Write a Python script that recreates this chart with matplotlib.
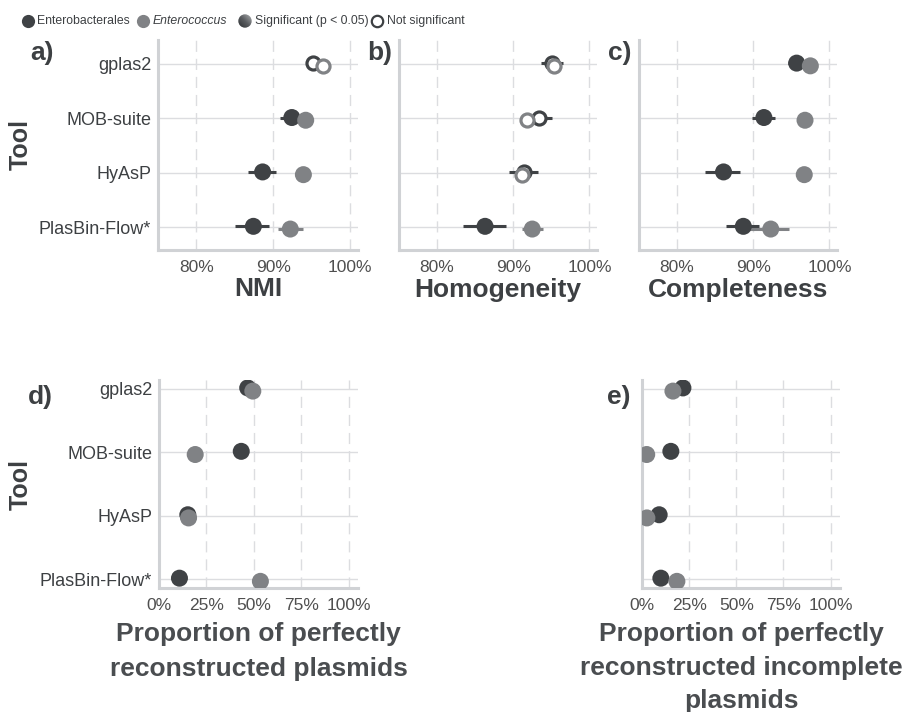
import matplotlib
matplotlib.use("Agg")
import matplotlib.pyplot as plt
from matplotlib.patches import Circle
from matplotlib.colors import LinearSegmentedColormap
from matplotlib import font_manager as fm
import numpy as np

plt.rcParams['font.family'] = ['Liberation Sans', 'DejaVu Sans']

# ---------------- data ----------------
tools = ["gplas2", "MOB-suite", "HyAsP", "PlasBin-Flow"]
tool_labels = ["gplas2", "MOB-suite", "HyAsP", "PlasBin-Flow*"]

# a) NMI
nmi_entb = [95.2, 92.4, 88.6, 87.4]
nmi_entb_lo = [94.3, 90.9, 86.7, 85.0]
nmi_entb_hi = [96.1, 93.9, 90.3, 89.4]
nmi_entb_sig = [False, True, True, True]
nmi_entc = [96.4, 94.2, 93.9, 92.2]
nmi_entc_lo = [95.9, 93.6, 93.4, 90.6]
nmi_entc_hi = [96.9, 94.8, 94.4, 93.8]
nmi_entc_sig = [False, True, True, True]

# b) Homogeneity
hom_entb = [95.1, 93.4, 91.4, 86.3]
hom_entb_lo = [93.6, 91.8, 89.5, 83.4]
hom_entb_hi = [96.5, 95.1, 93.2, 89.0]
hom_entb_sig = [False, False, False, True]
hom_entc = [95.4, 91.8, 91.2, 92.5]
hom_entc_lo = [94.8, 91.2, 90.6, 91.2]
hom_entc_hi = [96.0, 92.4, 91.8, 93.9]
hom_entc_sig = [False, False, False, True]

# c) Completeness
com_entb = [95.7, 91.4, 86.1, 88.7]
com_entb_lo = [94.5, 89.9, 83.7, 86.4]
com_entb_hi = [96.9, 92.9, 88.2, 90.8]
com_entb_sig = [True, True, True, True]
com_entc = [97.5, 96.8, 96.7, 92.3]
com_entc_lo = [97.1, 96.4, 96.3, 89.2]
com_entc_hi = [97.9, 97.2, 97.1, 94.7]
com_entc_sig = [True, True, True, True]

# d) perfectly reconstructed plasmids (%)
perf_entb = [46.8, 43.4, 15.2, 10.8]
perf_entc = [49.5, 19.1, 15.6, 53.5]

# e) perfectly reconstructed incomplete plasmids (%)
inc_entb = [21.7, 15.3, 9.1, 10.0]
inc_entc = [16.4, 2.5, 2.6, 18.5]

ticks_top = [80, 90, 100]
ticks_bottom = [0, 25, 50, 75, 100]

# ---------------- style ----------------
DARK = '#3f4245'
GREY = '#808285'
TXT = '#3d4043'
TICKTXT = '#4f4f4f'
SPINE = '#d0d2d5'
GRID = '#dcdde0'

W, H = 910, 712
fig = plt.figure(figsize=(W / 100, H / 100), dpi=100)


def px_axes(l, r, t, b):
    return fig.add_axes([l / W, 1 - b / H, (r - l) / W, (b - t) / H])


def style(ax, xticks, xlim, ylim, show_y, xlabel, labelpad=2, linespacing=1.25):
    ax.set_xlim(*xlim)
    ax.set_ylim(*ylim)
    ax.set_xticks(xticks)
    ax.set_xticklabels([f"{t}%" for t in xticks])
    ax.set_yticks(np.arange(len(tools)))
    if show_y:
        ax.set_yticklabels(tool_labels)
    else:
        ax.set_yticklabels([])
    ax.tick_params(length=0, labelsize=12.5, colors=TICKTXT, pad=7)
    ax.tick_params(axis='y', labelsize=13, labelcolor=TXT, pad=5)
    ax.grid(axis='y', color=GRID, lw=1.0, zorder=0)
    ax.grid(axis='x', color=GRID, lw=1.0, ls=(0, (8, 5)), zorder=0)
    ax.set_axisbelow(True)
    for s in ['top', 'right']:
        ax.spines[s].set_visible(False)
    for s in ['left', 'bottom']:
        ax.spines[s].set_color(SPINE)
        ax.spines[s].set_linewidth(2.2)
    ax.set_xlabel(xlabel, fontsize=19, fontweight='bold', color=TXT,
                  labelpad=labelpad, linespacing=linespacing)


def draw_series(ax, vals, lo, hi, sig, color, off):
    y = np.arange(len(vals)) + off
    vals = np.asarray(vals, float)
    if lo is not None:
        ax.hlines(y, lo, hi, color=color, lw=2.2, zorder=3)
    sig = np.asarray(sig, bool)
    ax.scatter(vals[sig], y[sig], s=150, color=color, edgecolors='none', zorder=4)
    ax.scatter(vals[~sig], y[~sig], s=88, facecolors='white', edgecolors=color,
               linewidths=2.3, zorder=4)


OFF_B, OFF_C = -0.015, 0.035

# top row
top_lim = (75, 101)
top_ylim = (3.42, -0.44)
ax_a = px_axes(158, 358, 40, 250)
ax_b = px_axes(399, 597, 40, 250)
ax_c = px_axes(639, 837, 40, 250)

for ax, eb, ebl, ebh, ebs, ec, ecl, ech, ecs, lab, showy in [
    (ax_a, nmi_entb, nmi_entb_lo, nmi_entb_hi, nmi_entb_sig,
     nmi_entc, nmi_entc_lo, nmi_entc_hi, nmi_entc_sig, "NMI", True),
    (ax_b, hom_entb, hom_entb_lo, hom_entb_hi, hom_entb_sig,
     hom_entc, hom_entc_lo, hom_entc_hi, hom_entc_sig, "Homogeneity", False),
    (ax_c, com_entb, com_entb_lo, com_entb_hi, com_entb_sig,
     com_entc, com_entc_lo, com_entc_hi, com_entc_sig, "Completeness", False),
]:
    style(ax, ticks_top, top_lim, top_ylim, showy, lab)
    draw_series(ax, eb, ebl, ebh, ebs, DARK, OFF_B)
    draw_series(ax, ec, ecl, ech, ecs, GREY, OFF_C)

# bottom row
bot_lim = (0, 105)
bot_ylim = (3.14, -0.14)
ax_d = px_axes(159, 358, 380, 588)
ax_e = px_axes(642, 840, 380, 588)
style(ax_d, ticks_bottom, bot_lim, bot_ylim, True,
      "Proportion of perfectly\nreconstructed plasmids", labelpad=7, linespacing=1.55)
draw_series(ax_d, perf_entb, None, None, [True] * 4, DARK, OFF_B)
draw_series(ax_d, perf_entc, None, None, [True] * 4, GREY, OFF_C)
style(ax_e, ticks_bottom, bot_lim, bot_ylim, False,
      "Proportion of perfectly\nreconstructed incomplete\nplasmids", labelpad=7,
      linespacing=1.48)
draw_series(ax_e, inc_entb, None, None, [True] * 4, DARK, OFF_B)
draw_series(ax_e, inc_entc, None, None, [True] * 4, GREY, OFF_C)
for ax in (ax_d, ax_e):
    ax.xaxis.label.set_color('#4a4d50')

# ---------------- overlay: labels & legend ----------------
lax = fig.add_axes([0, 0, 1, 1], zorder=10)
lax.set_xlim(0, W)
lax.set_ylim(H, 0)
lax.axis('off')

for t, x, y in [("a)", 42, 53), ("b)", 380, 53), ("c)", 620, 53),
                ("d)", 40, 397), ("e)", 619, 397)]:
    lax.text(x, y, t, fontsize=19, fontweight='bold', color=TXT,
             ha='center', va='center')
for y in (145, 484):
    lax.text(21, y, "Tool", fontsize=18, fontweight='bold', color=TXT,
             ha='center', va='center', rotation=90)

names = {f.name for f in fm.fontManager.ttflist}
if 'Liberation Sans Narrow' in names:
    leg_family, leg_size = ['Liberation Sans Narrow'], 10.5
else:
    leg_family, leg_size = ['Liberation Sans'], 8.8
LY = 21
lax.plot([28], [LY], 'o', ms=9.5, color=DARK, mew=0)
lax.text(37, LY, "Enterobacterales", fontsize=leg_size, color=TXT, va='center',
         family=leg_family)
lax.plot([143], [LY], 'o', ms=9.5, color=GREY, mew=0)
lax.text(153, LY, "Enterococcus", fontsize=leg_size, color=TXT, va='center',
         style='italic', family=leg_family)
# gradient circle (significant)
gx, gr = 245, 6.7
n = 60
jj, ii = np.meshgrid(np.linspace(0, 1, n), np.linspace(0, 1, n))
g = (jj + (1 - ii)) / 2
cmap = LinearSegmentedColormap.from_list('g', ['#2c2f32', '#5a5d60', '#b0b2b4'])
im = lax.imshow(g, extent=(gx - gr, gx + gr, LY + gr, LY - gr), cmap=cmap,
                origin='upper', interpolation='bilinear', zorder=5)
im.set_clip_path(Circle((gx, LY), gr, transform=lax.transData))
lax.set_aspect('auto')
lax.set_xlim(0, W)
lax.set_ylim(H, 0)
lax.text(255, LY, "Significant (p < 0.05)", fontsize=leg_size, color=TXT,
         va='center', family=leg_family)
lax.plot([377], [LY], 'o', ms=8.2, mfc='white', mec=TXT, mew=1.6)
lax.text(387, LY, "Not significant", fontsize=leg_size, color=TXT, va='center',
         family=leg_family)

fig.savefig("out.png", dpi=100)
